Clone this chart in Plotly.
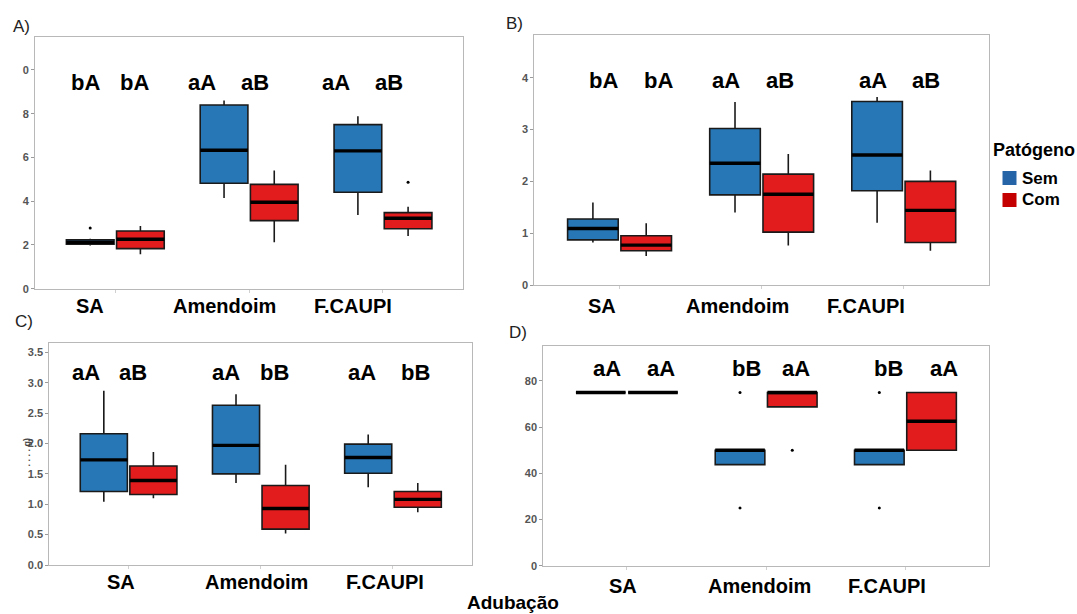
import plotly.graph_objects as go

W, H = 1077, 614

# ---------------- data ----------------
categories = ["SA", "Amendoim", "F.CAUPI"]
groups = ["Sem", "Com"]

# Panel A
A_sem_q1 = [2.03, 4.82, 4.41]
A_sem_med = [2.12, 6.33, 6.30]
A_sem_q3 = [2.23, 8.40, 7.50]
A_sem_lo = [1.98, 4.15, 3.37]
A_sem_hi = [2.28, 8.60, 7.88]
A_sem_out = [[2.78], [], []]
A_com_q1 = [1.83, 3.11, 2.74]
A_com_med = [2.26, 3.95, 3.22]
A_com_q3 = [2.64, 4.77, 3.48]
A_com_lo = [1.57, 2.12, 2.41]
A_com_hi = [2.87, 5.40, 3.75]
A_com_out = [[], [], [4.87]]
A_letters = ["bA", "bA", "aA", "aB", "aA", "aB"]
A_ticks = [0, 2, 4, 6, 8, 10]
A_ticktext = ["0", "2", "4", "6", "8", "0"]

# Panel B
B_sem_q1 = [0.87, 1.74, 1.82]
B_sem_med = [1.09, 2.35, 2.51]
B_sem_q3 = [1.275, 3.02, 3.54]
B_sem_lo = [0.82, 1.40, 1.20]
B_sem_hi = [1.59, 3.53, 3.63]
B_sem_out = [[], [], []]
B_com_q1 = [0.66, 1.02, 0.82]
B_com_med = [0.77, 1.75, 1.44]
B_com_q3 = [0.95, 2.14, 2.00]
B_com_lo = [0.56, 0.76, 0.66]
B_com_hi = [1.19, 2.53, 2.21]
B_com_out = [[], [], []]
B_letters = ["bA", "bA", "aA", "aB", "aA", "aB"]
B_ticks = [0, 1, 2, 3, 4]
B_ticktext = ["0", "1", "2", "3", "4"]

# Panel C
C_sem_q1 = [1.21, 1.50, 1.51]
C_sem_med = [1.73, 1.97, 1.77]
C_sem_q3 = [2.16, 2.63, 1.99]
C_sem_lo = [1.04, 1.35, 1.28]
C_sem_hi = [2.87, 2.81, 2.15]
C_sem_out = [[], [], []]
C_com_q1 = [1.16, 0.59, 0.95]
C_com_med = [1.39, 0.93, 1.08]
C_com_q3 = [1.63, 1.31, 1.21]
C_com_lo = [1.10, 0.52, 0.87]
C_com_hi = [1.86, 1.65, 1.35]
C_com_out = [[], [], []]
C_letters = ["aA", "aB", "aA", "bB", "aA", "bB"]
C_ticks = [0, 0.5, 1.0, 1.5, 2.0, 2.5, 3.0, 3.5]
C_ticktext = ["0.0", "0.5", "1.0", "1.5", "2.0", "2.5", "3.0", "3.5"]

# Panel D
D_sem_q1 = [75, 43.75, 43.75]
D_sem_med = [75, 50, 50]
D_sem_q3 = [75, 50, 50]
D_sem_lo = [75, 43.75, 43.75]
D_sem_hi = [75, 50, 50]
D_sem_out = [[], [75, 25], [75, 25]]
D_com_q1 = [75, 68.75, 50]
D_com_med = [75, 75, 62.5]
D_com_q3 = [75, 75, 75]
D_com_lo = [75, 68.75, 50]
D_com_hi = [75, 75, 75]
D_com_out = [[], [50], []]
D_letters = ["aA", "aA", "bB", "aA", "bB", "aA"]
D_ticks = [0, 20, 40, 60, 80]
D_ticktext = ["0", "20", "40", "60", "80"]

# ---------------- layout constants (pixels) ----------------
FONT = "Liberation Sans"
BLUE = "#2777b7"
RED = "#e21b1d"
LEG_BLUE = "#2664a8"
LEG_RED = "#c50000"


def px(xp):
    return xp / W


def py(yp):
    return 1 - yp / H


panels = [
    dict(name="A", dom_x=(35.0, 463.3), dom_y=(36.7, 288.7), yrange=11.52,
         stats=[(A_sem_q1, A_sem_med, A_sem_q3, A_sem_lo, A_sem_hi, A_sem_out),
                (A_com_q1, A_com_med, A_com_q3, A_com_lo, A_com_hi, A_com_out)],
         ticks=A_ticks, ticktext=A_ticktext, letters=A_letters,
         letter_x=[85.5, 134.3, 201.7, 255.2, 335.5, 389.2], letter_y=83,
         label_x=[90.3, 224.8, 353.0], label_y=307, tag="A)", tag_xy=(21.5, 26.5)),
    dict(name="B", dom_x=(534.3, 989.0), dom_y=(34.7, 285.0), yrange=4.83,
         stats=[(B_sem_q1, B_sem_med, B_sem_q3, B_sem_lo, B_sem_hi, B_sem_out),
                (B_com_q1, B_com_med, B_com_q3, B_com_lo, B_com_hi, B_com_out)],
         ticks=B_ticks, ticktext=B_ticktext, letters=B_letters,
         letter_x=[603.5, 658.5, 725.7, 779.6, 872.5, 926.0], letter_y=81,
         label_x=[602.0, 737.7, 866.0], label_y=306.5, tag="B)", tag_xy=(514, 23)),
    dict(name="C", dom_x=(49.3, 472.3), dom_y=(343.3, 565.0), yrange=3.65,
         stats=[(C_sem_q1, C_sem_med, C_sem_q3, C_sem_lo, C_sem_hi, C_sem_out),
                (C_com_q1, C_com_med, C_com_q3, C_com_lo, C_com_hi, C_com_out)],
         ticks=C_ticks, ticktext=C_ticktext, letters=C_letters,
         letter_x=[86.0, 133.3, 226.0, 274.3, 361.7, 415.7], letter_y=373.3,
         label_x=[121.0, 256.0, 384.5], label_y=583.3, tag="C)", tag_xy=(24, 321)),
    dict(name="D", dom_x=(543.3, 989.0), dom_y=(346.0, 565.7), yrange=95.1,
         stats=[(D_sem_q1, D_sem_med, D_sem_q3, D_sem_lo, D_sem_hi, D_sem_out),
                (D_com_q1, D_com_med, D_com_q3, D_com_lo, D_com_hi, D_com_out)],
         ticks=D_ticks, ticktext=D_ticktext, letters=D_letters,
         letter_x=[607.0, 661.0, 746.7, 796.0, 888.3, 944.0], letter_y=369.3,
         label_x=[623.3, 759.0, 887.4], label_y=586.7, tag="D)", tag_xy=(518, 332)),
]

fig = go.Figure()
layout_axes = {}
annotations = []

for i, p in enumerate(panels, start=1):
    xa = "x" if i == 1 else f"x{i}"
    ya = "y" if i == 1 else f"y{i}"
    for g, color, (q1, med, q3, lo, hi, out) in zip(groups, [BLUE, RED], p["stats"]):
        # outlier samples per box (None keeps empty rows valid for plotly.js)
        samples = [list(r) if r else [None] for r in out]
        fig.add_trace(go.Box(
            x=categories, y=samples, q1=q1, median=med, q3=q3,
            lowerfence=lo, upperfence=hi, orientation="v",
            boxpoints="outliers", jitter=0, pointpos=0,
            marker=dict(color="black", size=3, line=dict(width=0)),
            fillcolor=color, line=dict(color="#1a1a1a", width=1.6),
            whiskerwidth=0, offsetgroup=g, alignmentgroup=p["name"],
            name=g, showlegend=False, hoverinfo="skip",
            xaxis=xa, yaxis=ya))
        # thick median line (ggplot style)
        fig.add_trace(go.Box(
            x=categories, q1=med, median=med, q3=med,
            lowerfence=med, upperfence=med, orientation="v",
            boxpoints=False, fillcolor="rgba(0,0,0,0)",
            line=dict(color="black", width=3.4), whiskerwidth=0,
            offsetgroup=g, alignmentgroup=p["name"],
            name=g, showlegend=False, hoverinfo="skip",
            xaxis=xa, yaxis=ya))

    x0, x1 = p["dom_x"]
    y0, y1 = p["dom_y"]
    kx = "xaxis" if i == 1 else f"xaxis{i}"
    ky = "yaxis" if i == 1 else f"yaxis{i}"
    layout_axes[kx] = dict(
        domain=[px(x0), px(x1)], anchor=ya, type="category",
        categoryorder="array", categoryarray=categories,
        range=[-0.6, 2.6], showline=True, mirror=True,
        linecolor="#b8b8b8", linewidth=1, ticks="outside", ticklen=3,
        tickcolor="#d0d0d0", showticklabels=False, showgrid=False,
        zeroline=False, fixedrange=True, automargin=False)
    layout_axes[ky] = dict(
        domain=[py(y1), py(y0)], anchor=xa, range=[0, p["yrange"]],
        tickvals=p["ticks"], ticktext=p["ticktext"], showline=True,
        mirror=True, linecolor="#b8b8b8", linewidth=1, ticks="outside",
        ticklen=3, tickcolor="#9a9a9a",
        tickfont=dict(family=FONT, size=11, color="#555555", weight="bold"),
        showgrid=False, zeroline=False, fixedrange=True, automargin=False)

    for t, lx in zip(p["letters"], p["letter_x"]):
        annotations.append(dict(
            text=t, x=px(lx), y=py(p["letter_y"] - 1), xref="paper", yref="paper",
            showarrow=False, xanchor="center", yanchor="middle",
            font=dict(family=FONT, size=22, color="black", weight="bold")))
    for c, lx in zip(categories, p["label_x"]):
        annotations.append(dict(
            text=c, x=px(lx), y=py(p["label_y"] - 1), xref="paper", yref="paper",
            showarrow=False, xanchor="center", yanchor="middle",
            font=dict(family=FONT, size=20, color="black", weight="bold")))
    annotations.append(dict(
        text=p["tag"], x=px(p["tag_xy"][0]), y=py(p["tag_xy"][1]),
        xref="paper", yref="paper", showarrow=False,
        xanchor="center", yanchor="middle",
        font=dict(family=FONT, size=17, color="#222222")))

# x-axis title
annotations.append(dict(
    text="Adubação", x=px(513), y=0, xref="paper", yref="paper",
    showarrow=False, xanchor="center", yanchor="bottom", borderpad=0,
    font=dict(family=FONT, size=19, color="black", weight="bold")))

# faint, cropped y title remnant in panel C
annotations.append(dict(
    text=". . . . g)", x=px(26.5), y=py(452), xref="paper", yref="paper",
    showarrow=False, textangle=-90, xanchor="center", yanchor="middle",
    font=dict(family=FONT, size=9, color="#444444", weight="bold")))

# legend (drawn manually, ggplot style)
annotations.append(dict(
    text="Patógeno", x=px(991), y=py(150), xref="paper", yref="paper",
    showarrow=False, xanchor="left", yanchor="middle",
    font=dict(family=FONT, size=18, color="black", weight="bold")))
shapes = []
for g, col, yc in zip(groups, [LEG_BLUE, LEG_RED], [178, 200]):
    shapes.append(dict(type="rect", xref="paper", yref="paper",
                       x0=px(1002.5), x1=px(1016.5), y0=py(yc + 7), y1=py(yc - 7),
                       fillcolor=col, line=dict(width=0)))
    annotations.append(dict(
        text=g, x=px(1020), y=py(yc), xref="paper", yref="paper",
        showarrow=False, xanchor="left", yanchor="middle",
        font=dict(family=FONT, size=17, color="black", weight="bold")))

fig.update_layout(
    width=W, height=H, autosize=False,
    margin=dict(l=0, r=0, t=0, b=0, pad=0),
    paper_bgcolor="white", plot_bgcolor="white",
    boxmode="group", boxgap=0.25, boxgroupgap=0.05,
    showlegend=False, annotations=annotations, shapes=shapes,
    **layout_axes)

fig.write_html(
    "out.html",
    config={"displayModeBar": False},
    post_script="document.body.style.margin='0';document.body.style.overflow='hidden';")
